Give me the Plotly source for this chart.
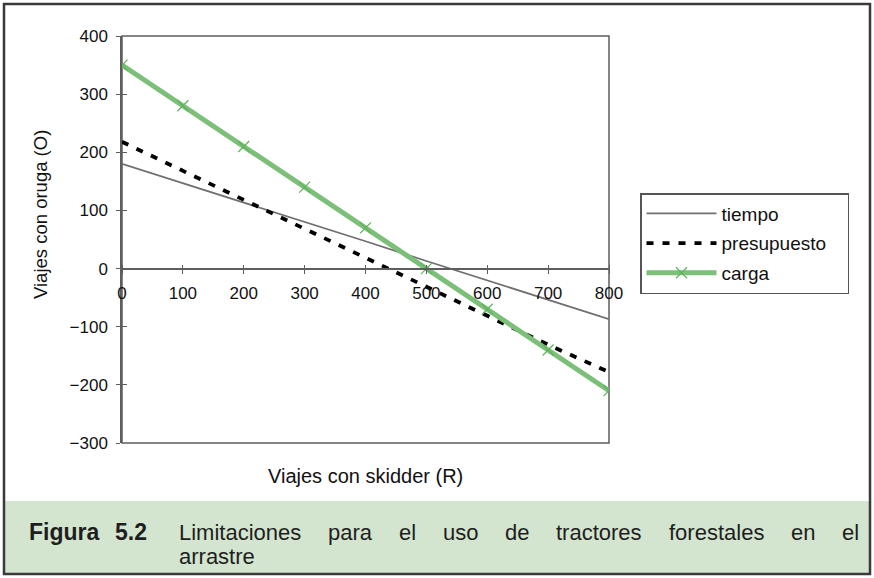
import plotly.graph_objects as go

# Viajes con skidder (R) and the three constraint lines (O)
viajes_skidder = [0, 100, 200, 300, 400, 500, 600, 700, 800]
tiempo = [180, 147, 113, 80, 47, 13, -20, -53, -87]
presupuesto = [218, 168, 118, 69, 19, -31, -81, -131, -178]
carga = [350, 280, 210, 140, 70, 0, -70, -140, -210]

x_ticks = [0, 100, 200, 300, 400, 500, 600, 700, 800]
y_ticks = [-300, -200, -100, 0, 100, 200, 300, 400]

caption_label = ["Figura", "5.2"]
caption_words = ["Limitaciones", "para", "el", "uso", "de", "tractores",
                 "forestales", "en", "el"]
caption_line2 = "arrastre"

W, H = 874, 578
L, R, T, B = 122, 265, 36, 135
PW, PH = W - L - R, H - T - B
FONT = "Liberation Sans, Arial, Helvetica, sans-serif"
AXIS = "#5e5e5e"
GREEN = "#7cbf78"
NBSP = "\u00a0"


def px(xp):
    return (xp - L) / PW


def py(yp):
    return (H - B - yp) / PH


fig = go.Figure()

fig.add_trace(go.Scatter(
    x=viajes_skidder, y=tiempo, name="tiempo", mode="lines",
    line=dict(color="#6f6f6f", width=1.8), legendgroup="a"))
fig.add_trace(go.Scatter(
    x=viajes_skidder, y=presupuesto, name="presupuesto" + NBSP * 3,
    mode="lines", line=dict(color="black", width=3.8, dash="7px,9px"),
    legendgroup="b"))
fig.add_trace(go.Scatter(
    x=viajes_skidder, y=carga, name="carga", mode="lines+markers",
    line=dict(color=GREEN, width=5),
    marker=dict(symbol="x-thin", size=11, color="#5fb35c",
                line=dict(color="#5fb35c", width=1.2)),
    legendgroup="c"))

# empty traces that carry the second halves of the crossing tick marks
fig.add_trace(go.Scatter(x=viajes_skidder, y=carga, xaxis="x2", yaxis="y",
                         mode="none", showlegend=False, hoverinfo="skip"))
fig.add_trace(go.Scatter(x=viajes_skidder, y=carga, xaxis="x", yaxis="y2",
                         mode="none", showlegend=False, hoverinfo="skip"))

zero_pos = (0 - (-300)) / (400 - (-300))

common_x = dict(range=[0, 800], tickvals=x_ticks, showgrid=False,
                zeroline=False, tickcolor=AXIS, tickwidth=1.2)
fig.update_layout(
    xaxis=dict(**common_x, anchor="free", position=zero_pos, showline=True,
               linecolor=AXIS, linewidth=1.5, ticks="outside", ticklen=5,
               ticklabelstandoff=4,
               tickfont=dict(family=FONT, size=17, color="#111")),
    xaxis2=dict(**common_x, overlaying="x", anchor="free", position=zero_pos,
                side="top", ticks="outside", ticklen=4, showticklabels=False,
                showline=False),
    yaxis=dict(range=[-300, 400], tickvals=y_ticks, showgrid=False,
               zeroline=False, showline=True, linecolor=AXIS, linewidth=1.5,
               ticks="outside", ticklen=4, tickcolor=AXIS, tickwidth=1.2,
               ticklabelstandoff=5,
               tickfont=dict(family=FONT, size=17, color="#111")),
    yaxis2=dict(range=[-300, 400], tickvals=y_ticks, overlaying="y",
                anchor="x", side="left", ticks="inside", ticklen=5,
                tickcolor=AXIS, tickwidth=1.2, showticklabels=False,
                showgrid=False, zeroline=False, showline=False),
)

shapes = [
    # plot-area frame
    dict(type="rect", xref="x domain", yref="y domain", x0=0, x1=1, y0=0, y1=1,
         line=dict(color=AXIS, width=1.5), layer="below"),
    # caption band
    dict(type="rect", xref="paper", yref="paper", x0=px(4), x1=px(870),
         y0=py(501), y1=py(574), fillcolor="#d4e5cf", line=dict(width=0),
         layer="below"),
    # outer frame
    dict(type="rect", xref="paper", yref="paper", x0=px(4), x1=px(870),
         y0=py(4), y1=py(574), line=dict(color="#3a3a3a", width=2.5)),
]

annotations = [
    dict(text="Viajes con oruga (O)", xref="paper", yref="paper",
         x=px(40), y=py(215), textangle=-90, showarrow=False,
         xanchor="center", yanchor="middle",
         font=dict(family=FONT, size=18.5, color="#111")),
    dict(text="Viajes con skidder (R)", xref="paper", yref="paper",
         x=0.5, y=py(476), showarrow=False, xanchor="center",
         yanchor="middle", font=dict(family=FONT, size=20, color="#111")),
]

# caption: bold label, then a justified first line and a second line
cap_font = dict(family=FONT, size=22, color="#1e1e1e")
line1_y, line2_y = py(532), py(556)
for word, xp in zip(caption_label, [27, 113]):
    annotations.append(dict(text="<b>" + word + "</b>", xref="paper",
                            yref="paper", x=px(xp), y=line1_y,
                            showarrow=False, xanchor="left", yanchor="middle",
                            font=dict(family=FONT, size=23, color="#1e1e1e")))

em = {"Limitaciones": 5.557, "para": 2.001, "el": 0.778, "uso": 1.612,
      "de": 1.112, "tractores": 3.89, "forestales": 4.335, "en": 1.112}
widths = [em[w] * cap_font["size"] for w in caption_words]
start, end = 177, 857
gap = (end - start - sum(widths)) / (len(caption_words) - 1)
pos = start
for word, wd in zip(caption_words, widths):
    annotations.append(dict(text=word, xref="paper", yref="paper", x=px(pos),
                            y=line1_y, showarrow=False, xanchor="left",
                            yanchor="middle", font=cap_font))
    pos += wd + gap
annotations.append(dict(text=caption_line2, xref="paper", yref="paper",
                        x=px(177), y=line2_y, showarrow=False, xanchor="left",
                        yanchor="middle", font=cap_font))

fig.update_layout(
    width=W, height=H,
    margin=dict(l=L, r=R, t=T, b=B),
    paper_bgcolor="white", plot_bgcolor="white",
    font=dict(family=FONT, color="#111"),
    showlegend=True,
    legend=dict(x=px(640), y=py(193), xanchor="left", yanchor="top",
                bordercolor="#555", borderwidth=1.5, bgcolor="white",
                font=dict(family=FONT, size=19, color="#111"),
                tracegroupgap=2, itemwidth=70),
    shapes=shapes,
    annotations=annotations,
)

fig.write_html("out.html")
